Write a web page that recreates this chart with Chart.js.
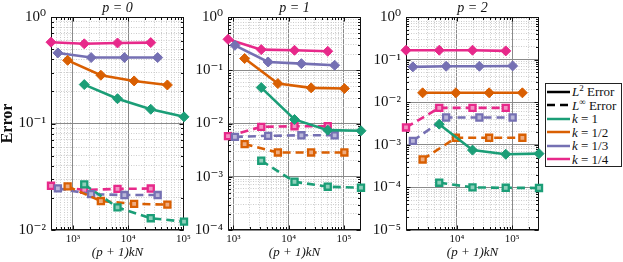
<!DOCTYPE html>
<html><head><meta charset="utf-8">
<script src="https://cdn.jsdelivr.net/npm/chart.js@4.4.1/dist/chart.umd.min.js"></script>
<style>
html,body{margin:0;padding:0;background:#fff;width:623px;height:262px;overflow:hidden;font-family:"Liberation Serif",serif}
.pan{position:absolute;top:0}
#legend{position:absolute;left:545px;top:83px;width:77px;height:84px;border:1px solid #222;background:#fff;box-sizing:border-box;padding-top:1px;z-index:5}
#legend .row{height:13.5px;display:flex;align-items:center;font-size:13px;line-height:13px;white-space:nowrap;color:#111}
#legend svg{margin-left:1px;margin-right:2px;flex:none}
#legend sup{font-size:9px;line-height:0;vertical-align:5px}
</style></head><body>
<canvas id="c0" class="pan" style="left:0px" width="200" height="262"></canvas>
<canvas id="c1" class="pan" style="left:190px" width="185" height="262"></canvas>
<canvas id="c2" class="pan" style="left:362px" width="190" height="262"></canvas>
<div id="legend">
  <div class="row"><svg width="23" height="8"><line x1="0" y1="4" x2="23" y2="4" stroke="#000" stroke-width="2.5"/></svg><span><i>L</i><sup>2</sup> Error</span></div>
  <div class="row"><svg width="23" height="8"><line x1="0" y1="4" x2="23" y2="4" stroke="#000" stroke-width="2.5" stroke-dasharray="8,5"/></svg><span><i>L</i><sup>∞</sup> Error</span></div>
  <div class="row"><svg width="23" height="8"><line x1="0" y1="4" x2="23" y2="4" stroke="#1b9e77" stroke-width="2.5"/></svg><span><i>k</i> = 1</span></div>
  <div class="row"><svg width="23" height="8"><line x1="0" y1="4" x2="23" y2="4" stroke="#d95f02" stroke-width="2.5"/></svg><span><i>k</i> = 1/2</span></div>
  <div class="row"><svg width="23" height="8"><line x1="0" y1="4" x2="23" y2="4" stroke="#7570b3" stroke-width="2.5"/></svg><span><i>k</i> = 1/3</span></div>
  <div class="row"><svg width="23" height="8"><line x1="0" y1="4" x2="23" y2="4" stroke="#e7298a" stroke-width="2.5"/></svg><span><i>k</i> = 1/4</span></div>
</div>
<script>
// ---- data ----
const N = [1600, 6400, 25600, 102400];
const kValues = [1, 1/2, 1/3, 1/4];
const kLabels = ['1', '1/2', '1/3', '1/4'];
const pValues = [0, 1, 2];
const colors = ['#1b9e77', '#d95f02', '#7570b3', '#e7298a'];
const lightColors = ['#8fd0bb', '#eeac80', '#bab7d9', '#f394c4'];
const yMinValues = [1e-2, 1e-4, 1e-5];
const yMaxValues = [1, 1, 1];

// rows: k = 1, 1/2, 1/3, 1/4 ; columns: N
const L2_p0 = [[0.232, 0.171, 0.136, 0.1155], [0.392, 0.284, 0.251, 0.230], [0.46, 0.416, 0.416, 0.416], [0.58, 0.56, 0.57, 0.575]];
const Linf_p0 = [[0.0268, 0.0163, 0.0129, 0.0120], [0.0257, 0.0187, 0.0176, 0.0173], [0.0246, 0.0217, 0.0213, 0.0213], [0.026, 0.0238, 0.0243, 0.0245]];
const L2_p1 = [[0.0473, 0.0119, 0.0075, 0.0073], [0.166, 0.0562, 0.0467, 0.0453], [0.294, 0.143, 0.133, 0.124], [0.381, 0.244, 0.237, 0.227]];
const Linf_p1 = [[0.0020, 0.000806, 0.00065, 0.000622], [0.0041, 0.00286, 0.00286, 0.00286], [0.00562, 0.00587, 0.0060, 0.0060], [0.00579, 0.00866, 0.0089, 0.0089]];
const L2_p2 = [[0.00305, 0.00075, 0.00060, 0.00062], [0.0166, 0.0166, 0.0166, 0.0166], [0.0675, 0.0698, 0.0698, 0.071], [0.166, 0.166, 0.166, 0.160]];
const Linf_p2 = [[0.000129, 0.0001, 0.000098, 0.000097], [0.000453, 0.00146, 0.00146, 0.00146], [0.00124, 0.00437, 0.00437, 0.00437], [0.00255, 0.00737, 0.00737, 0.00737]];
const L2 = [L2_p0, L2_p1, L2_p2];
const Linf = [Linf_p0, Linf_p1, Linf_p2];

// ---- helpers ----
const SUP = {'-':'⁻','0':'⁰','1':'¹','2':'²','3':'³','4':'⁴','5':'⁵','6':'⁶','7':'⁷','8':'⁸','9':'⁹'};
function isDecade(v){ const l = Math.log10(v); return Math.abs(l - Math.round(l)) < 1e-6; }
function decLabel(v){ if(!isDecade(v)) return ''; const e = String(Math.round(Math.log10(v))); return '10' + e.split('').map(c=>SUP[c]).join(''); }
function logTicks(min, max){
  const t = [];
  for (let e = Math.floor(Math.log10(min)) ; e <= Math.ceil(Math.log10(max)); e++)
    for (let m = 1; m < 10; m++){ const v = parseFloat(m + 'e' + e); if (v >= min*0.99999 && v <= max*1.00001) t.push({value: v}); }
  return t;
}
const serif = '"Liberation Serif", "DejaVu Serif", serif';

const framePlugin = {
  id: 'frame',
  beforeDatasetsDraw(chart){
    const {ctx, chartArea: a, scales} = chart;
    const L = Math.round(a.left)+0.5, R = Math.round(a.right)-0.5, T = Math.round(a.top)+0.5, B = Math.round(a.bottom)-0.5;
    ctx.save();
    ctx.strokeStyle = '#111'; ctx.lineWidth = 1; ctx.setLineDash([]);
    ctx.beginPath();
    scales.x.ticks.forEach(t => {
      const px = Math.round(scales.x.getPixelForValue(t.value)) + 0.5;
      const len = isDecade(t.value) ? 4 : 2.5;
      ctx.moveTo(px, B); ctx.lineTo(px, B - len);
      ctx.moveTo(px, T); ctx.lineTo(px, T + len);
    });
    scales.y.ticks.forEach(t => {
      const py = Math.round(scales.y.getPixelForValue(t.value)) + 0.5;
      const len = isDecade(t.value) ? 4 : 2.5;
      ctx.moveTo(L, py); ctx.lineTo(L + len, py);
      ctx.moveTo(R, py); ctx.lineTo(R - len, py);
    });
    ctx.stroke();
    ctx.strokeRect(L, T, R - L, B - T);
    ctx.restore();
  }
};

function makePanel(id, pi, yAxisWidth, padRight, showYTitle){
  const p = pValues[pi];
  const datasets = [];
  const allX = [];
  kValues.forEach((k, ki) => {
    const xs = N.map(n => (p + 1) * k * n);
    allX.push(...xs);
    datasets.push({
      label: 'L2 k=' + kLabels[ki],
      data: xs.map((x, i) => ({x, y: L2[pi][ki][i]})),
      showLine: true, borderColor: colors[ki], backgroundColor: colors[ki], borderWidth: 2.6,
      pointStyle: 'rectRot', pointRadius: 5, pointBorderWidth: 1, pointBackgroundColor: colors[ki], pointBorderColor: colors[ki],
      clip: false
    });
    datasets.push({
      label: 'Linf k=' + kLabels[ki],
      data: xs.map((x, i) => ({x, y: Linf[pi][ki][i]})),
      showLine: true, borderColor: colors[ki], backgroundColor: colors[ki], borderWidth: 2.6, borderDash: [8, 5],
      pointStyle: 'rect', pointRadius: 4.3, pointBorderWidth: 2.3, pointBackgroundColor: lightColors[ki], pointBorderColor: colors[ki],
      clip: false
    });
  });
  const xMin = Math.min(...allX), xMax = Math.max(...allX);
  const yMin = yMinValues[pi], yMax = yMaxValues[pi];
  const gridColor = ctx => (ctx.tick && isDecade(ctx.tick.value)) ? '#8a8a8a' : '#cccccc';
  const gridDash = ctx => (ctx.tick && isDecade(ctx.tick.value)) ? [] : [1, 1.5];
  new Chart(document.getElementById(id), {
    type: 'scatter',
    data: { datasets },
    plugins: [framePlugin],
    options: {
      responsive: false, animation: false, events: [],
      layout: { padding: { left: 0, right: padRight, top: 0, bottom: 0 } },
      plugins: {
        legend: { display: false }, tooltip: { enabled: false },
        title: { display: true, fullSize: false, text: 'p = ' + p, color: '#111', padding: { top: 0, bottom: 0 },
                 font: { family: serif, size: 14, style: 'italic', weight: 'normal', lineHeight: 17/14 } }
      },
      scales: {
        x: {
          type: 'logarithmic', min: xMin, max: xMax, bounds: 'data',
          afterBuildTicks: s => { s.ticks = logTicks(xMin, xMax); },
          afterFit: s => { s.height = 32; s.paddingLeft = 0; s.paddingRight = 0; },
          grid: { color: gridColor, lineWidth: 1, drawTicks: false },
          border: { display: false, dash: gridDash },
          ticks: { autoSkip: false, maxRotation: 0, padding: 3, color: '#111', font: { family: serif, size: 11 }, callback: v => decLabel(v) },
          title: { display: true, text: '(p + 1)kN', color: '#111', padding: { top: 0, bottom: 2 }, font: { family: serif, size: 13, style: 'italic' } }
        },
        y: {
          type: 'logarithmic', min: yMin, max: yMax, bounds: 'data',
          afterBuildTicks: s => { s.ticks = logTicks(yMin, yMax); },
          afterFit: s => { s.width = yAxisWidth; s.paddingTop = 0; s.paddingBottom = 0; },
          grid: { color: gridColor, lineWidth: 1, drawTicks: false },
          border: { display: false, dash: gridDash },
          ticks: { autoSkip: false, padding: 5, color: '#111', font: { family: serif, size: 15 }, callback: v => decLabel(v) },
          title: { display: showYTitle, text: 'Error', color: '#111', padding: { top: 0, bottom: 0 }, font: { family: serif, size: 16, weight: 'bold', lineHeight: 1 } }
        }
      }
    }
  });
}

makePanel('c0', 0, 51, 16, true);
makePanel('c1', 1, 38, 14, false);
makePanel('c2', 2, 44, 13, false);
</script>
</body></html>
